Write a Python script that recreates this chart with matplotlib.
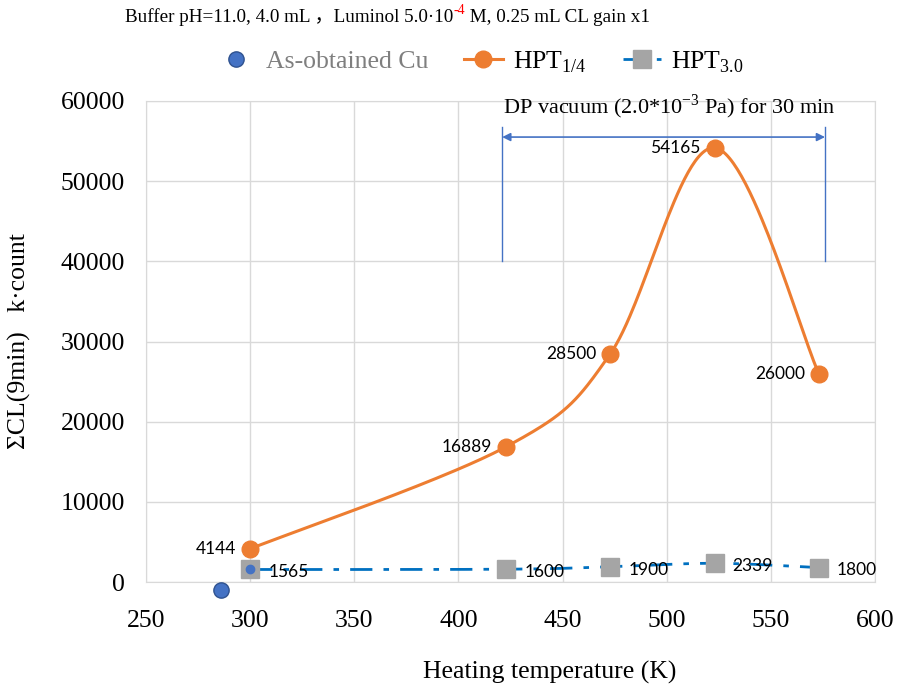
import numpy as np
import matplotlib
matplotlib.use("Agg")
import matplotlib.pyplot as plt
from matplotlib.lines import Line2D

plt.rcParams['mathtext.fontset'] = 'custom'
plt.rcParams['mathtext.rm'] = 'Liberation Serif'

# data
temps = [300, 423, 473, 523, 573]
hpt14 = [4144, 16889, 28500, 54165, 26000]
hpt30 = [1565, 1600, 1900, 2339, 1800]
cu_x = [286]
cu_y = [-1000]
bracket_x = [421, 576]
bracket_y = [40000, 56800]
arrow_y = 55500

SERIF = ['Liberation Serif', 'Noto Sans CJK SC']
LABEL_FONT = 'Lato'


def excel_smooth(xs, ys, sx, sy, n=60):
    # Bezier smoothing like spreadsheet "smoothed line", done in scaled space
    p = np.column_stack([np.asarray(xs, float) * sx, np.asarray(ys, float) * sy])
    pts = np.vstack([p[0], p, p[-1]])
    out = []
    t = np.linspace(0, 1, n)[:, None]
    for i in range(1, len(pts) - 2):
        p0, p1, p2, p3 = pts[i - 1], pts[i], pts[i + 1], pts[i + 2]
        c1 = p1 + (p2 - p0) / 6
        c2 = p2 - (p3 - p1) / 6
        seg = ((1 - t) ** 3) * p1 + 3 * ((1 - t) ** 2) * t * c1 + 3 * (1 - t) * t ** 2 * c2 + t ** 3 * p2
        out.append(seg)
    out = np.vstack(out)
    return out[:, 0] / sx, out[:, 1] / sy


fig = plt.figure(figsize=(8.98, 6.87), dpi=100)
ax = fig.add_axes([0.1626, 0.1528, 0.8118, 0.7002])

orange = '#ED7D31'
blue = '#0070C0'
grey = '#A5A5A5'

sx, sy = 104 / 50, 80 / 10000
ox, oy = excel_smooth(temps, hpt14, sx, sy)
ax.plot(ox, oy, color=orange, lw=2.2, zorder=3)
ax.plot(temps, hpt14, 'o', color=orange, ms=12, zorder=4)

bx, by = excel_smooth(temps, hpt30, sx, sy)
ax.plot(bx, by, color=blue, lw=2, dashes=[8, 4, 2, 4], zorder=3)
ax.plot(temps, hpt30, 's', color=grey, ms=13, zorder=4)
ax.plot(temps[0], hpt30[0], 'o', color='#4472C4', ms=6, zorder=5)

ax.plot(cu_x, cu_y, 'o', color='#4472C4', mec='#2F528F', mew=1, ms=11, clip_on=False, zorder=5)

# labels
for x, y in zip(temps, hpt14):
    ax.annotate(f'{y}', (x, y), xytext=(-10, 0), textcoords='offset points',
                ha='right', va='center', fontsize=12.5, family=LABEL_FONT)
for x, y in zip(temps, hpt30):
    ax.annotate(f'{y}', (x, y), xytext=(13, -2), textcoords='offset points',
                ha='left', va='center', fontsize=12.5, family=LABEL_FONT)

# bracket for DP vacuum
bc = '#4472C4'
for x in bracket_x:
    ax.plot([x, x], bracket_y, color=bc, lw=1, zorder=2)
ax.annotate('', xy=(bracket_x[0], arrow_y), xytext=(bracket_x[1], arrow_y),
            arrowprops=dict(arrowstyle='<|-|>', color=bc, lw=1.2, mutation_scale=12,
                            shrinkA=0, shrinkB=0))
ax.text(501, 59300, r'DP vacuum (2.0*10$^{\mathregular{-3}}$ Pa) for 30 min',
        ha='center', va='center', fontsize=16, family=SERIF)

ax.set_xlim(250, 600)
ax.set_ylim(0, 60000)
ax.set_xticks(np.arange(250, 601, 50))
ax.set_yticks(np.arange(0, 60001, 10000))
ax.grid(True, color='#D9D9D9', lw=1)
ax.set_axisbelow(True)
for s in ax.spines.values():
    s.set_color('#D9D9D9')
ax.tick_params(length=0, labelsize=18.5)
ax.tick_params(axis='y', pad=15)
ax.tick_params(axis='x', pad=20)
for lab in ax.get_xticklabels() + ax.get_yticklabels():
    lab.set_family(SERIF)

ax.set_xlabel('Heating temperature (K)', fontsize=18.5, family=SERIF)
ax.set_ylabel('ΣCL(9min)   k·count', fontsize=18.5, family=SERIF)
ax.xaxis.set_label_coords(0.554, -0.187)
ax.yaxis.set_label_coords(-0.173, 0.501)
ax.xaxis.label.set_va('center')
ax.yaxis.label.set_va('center')

# top note with red exponent
t1 = fig.text(125 / 898, 1 - 26 / 687, 'Buffer pH=11.0, 4.0 mL ，Luminol 5.0·10',
              fontsize=13.8, family=SERIF, va='bottom')
t2 = ax.annotate('-4', xy=(1, 0.5), xycoords=t1, fontsize=10, color='red',
                 family=SERIF, va='bottom', annotation_clip=False)
ax.annotate(' M, 0.25 mL CL gain x1', xy=(1, 0), xycoords=(t2, t1),
            fontsize=13.8, family=SERIF, va='bottom', annotation_clip=False)

# legend
handles = [
    Line2D([], [], ls='none', marker='o', color='#4472C4', mec='#2F528F', ms=11),
    Line2D([], [], color=orange, lw=2.2, marker='o', ms=12),
    Line2D([], [], color=blue, lw=2, dashes=[8, 4, 2, 4], marker='s', mfc=grey, mec=grey, ms=13),
]
labels = ['As-obtained Cu', r'HPT$_{\mathregular{1/4}}$', r'HPT$_{\mathregular{3.0}}$']
leg = fig.legend(handles, labels, loc='center', bbox_to_anchor=(0.535, 1 - 62 / 687), ncol=3,
                 frameon=False, prop={'family': SERIF, 'size': 18.5}, handlelength=1.5,
                 columnspacing=1.4, handletextpad=0.4)
leg.get_texts()[0].set_color('#7F7F7F')

fig.savefig('out.png', dpi=100)
